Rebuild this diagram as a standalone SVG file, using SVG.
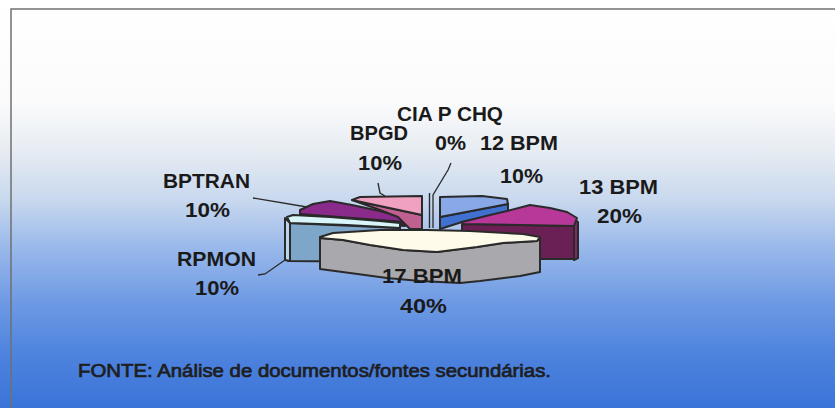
<svg xmlns="http://www.w3.org/2000/svg" width="835" height="408" viewBox="0 0 835 408">
<defs>
<linearGradient id="bg" x1="0" y1="0" x2="0" y2="408" gradientUnits="userSpaceOnUse">
<stop offset="0" stop-color="#ffffff"/>
<stop offset="0.25" stop-color="#fbfbfc"/>
<stop offset="0.37" stop-color="#e6ecf2"/>
<stop offset="0.49" stop-color="#c8d8ee"/>
<stop offset="0.61" stop-color="#98b8ea"/>
<stop offset="0.74" stop-color="#6e9ae4"/>
<stop offset="0.86" stop-color="#4f84de"/>
<stop offset="1" stop-color="#3b74d8"/>
</linearGradient>
<style>
.o{stroke:#2a2a2a;stroke-width:2;stroke-linejoin:round}
.lead{fill:none;stroke:#2a2a2a;stroke-width:1.3}
.lbl{font-family:"Liberation Sans",Arial,sans-serif;font-weight:bold;font-size:20px;fill:#1a1a1a}
.src{font-family:"Liberation Sans",Arial,sans-serif;font-size:18px;fill:#1e1e1e;stroke:#1e1e1e;stroke-width:0.7}
</style>
</defs>
<rect x="0" y="0" width="835" height="408" fill="url(#bg)"/>
<path d="M11,408 V9 H835" fill="none" stroke="#707070" stroke-width="1.5"/>

<g id="slice-bptran">
<polygon class="o" fill="#8a2a8a" points="300,210 313,204 330,201 352,205 380,211 405,218 405,224 300,215"/>
<polygon class="o" fill="#4a1a4a" points="300,214 405,222 405,226 300,218"/>
</g>
<g id="slice-bpgd">
<polygon class="o" fill="#c06090" points="352,200 422,215 422,229 410,229 398,217 380,210"/>
<polygon class="o" fill="#f0a0c0" points="352,200 360,197 422,196 422,215"/>
</g>
<g id="slice-ciapchq">
<line x1="429.5" y1="193" x2="429.5" y2="228" stroke="#2a2a2a" stroke-width="1.4"/>
</g>
<g id="slice-12bpm">
<polygon class="o" fill="#4070d0" points="440,217 508,204 508,212 462,222 440,229"/>
<polygon class="o" fill="#88a8e8" points="440,197 482,196 507,199 508,204 440,217"/>
</g>
<g id="slice-13bpm">
<polygon class="o" fill="#6a2055" points="462,224 574,226 574,259 462,259"/>
<polygon class="o" fill="#7e2a66" points="574,219 578,222 578,258 574,260"/>
<polygon class="o" fill="#b8389a" points="462,222 490,215 507,211 530,205 550,208 567,212 577,218 574,226 463,224"/>
</g>
<g id="slice-rpmon">
<polygon class="o" fill="#7ea6c8" points="288,223 400,228 400,262 288,261"/>
<polygon class="o" fill="#b8d8ea" points="285,218 290,223 290,261 285,260"/>
<polygon class="o" fill="#d8f6fa" points="287,217 293,215 330,217 380,221 400,223 400,228 347,225 290,223"/>
</g>
<g id="slice-17bpm">
<polygon class="o" fill="#a9a9ad" points="320,238 343,240 370,245 403,250 437,252 477,247 503,243 537,241 540,238 540,272 520,276 480,281 460,283 420,281 387,278 350,273 320,269"/>
<polygon class="o" fill="#fffbea" points="320,237 333,233 380,230 427,230 470,231 523,234 540,237 537,241 503,243 477,247 437,252 403,250 370,245 343,240 320,238"/>
</g>

<g id="connectors">
<polyline class="lead" points="451,163 448,170 433,195 433,228"/>
<polyline class="lead" points="378,183 380,193 385,196"/>
<polyline class="lead" points="253,198 307,207"/>
<polyline class="lead" points="258,275 265,274 285,260"/>
</g>

<g id="labels">
<text class="lbl" x="397" y="121" textLength="106" lengthAdjust="spacingAndGlyphs">CIA P CHQ</text>
<text class="lbl" x="435" y="150" textLength="31" lengthAdjust="spacingAndGlyphs">0%</text>
<text class="lbl" x="350" y="140" textLength="58" lengthAdjust="spacingAndGlyphs">BPGD</text>
<text class="lbl" x="358" y="170" textLength="44" lengthAdjust="spacingAndGlyphs">10%</text>
<text class="lbl" x="480" y="150" textLength="78" lengthAdjust="spacingAndGlyphs">12 BPM</text>
<text class="lbl" x="500" y="183" textLength="43" lengthAdjust="spacingAndGlyphs">10%</text>
<text class="lbl" x="579" y="194" textLength="79" lengthAdjust="spacingAndGlyphs">13 BPM</text>
<text class="lbl" x="597" y="223" textLength="45" lengthAdjust="spacingAndGlyphs">20%</text>
<text class="lbl" x="163" y="188" textLength="87" lengthAdjust="spacingAndGlyphs">BPTRAN</text>
<text class="lbl" x="185" y="217" textLength="45" lengthAdjust="spacingAndGlyphs">10%</text>
<text class="lbl" x="177" y="266" textLength="79" lengthAdjust="spacingAndGlyphs">RPMON</text>
<text class="lbl" x="195" y="295" textLength="44" lengthAdjust="spacingAndGlyphs">10%</text>
<text class="lbl" x="382" y="283" textLength="80" lengthAdjust="spacingAndGlyphs">17 BPM</text>
<text class="lbl" x="400" y="313" textLength="47" lengthAdjust="spacingAndGlyphs">40%</text>
<text class="src" x="78" y="377" textLength="473" lengthAdjust="spacingAndGlyphs">FONTE: Análise de documentos/fontes secundárias.</text>
</g>
</svg>
